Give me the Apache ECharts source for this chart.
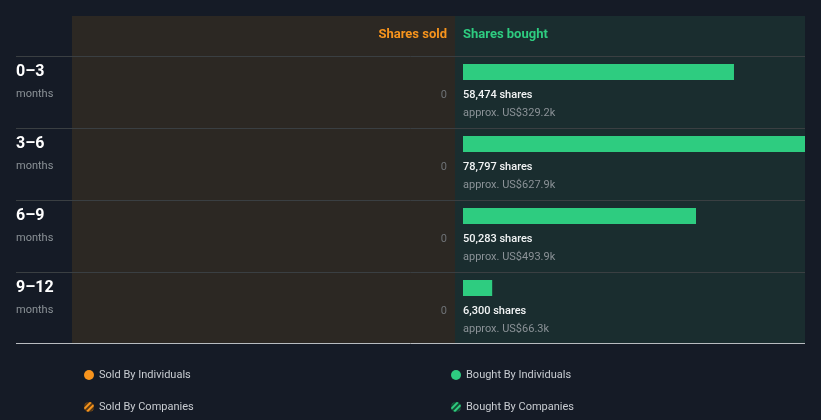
<!DOCTYPE html>
<html><head><meta charset="utf-8">
<script src="https://cdn.jsdelivr.net/npm/echarts@6/dist/echarts.min.js"></script>
<style>html,body{margin:0;padding:0;background:#151b26;}#c{width:821px;height:420px;}</style>
</head><body><div id="c"></div>
<script>
const categories = ['0–3', '3–6', '6–9', '9–12'];
const periodUnit = 'months';
const sharesBought = [58474, 78797, 50283, 6300];
const valueBought = ['US$329.2k', 'US$627.9k', 'US$493.9k', 'US$66.3k'];
const sharesSold = [0, 0, 0, 0];
const boughtAxisMax = 73800;
const legendSold = ['Sold By Individuals', 'Sold By Companies'];
const legendBought = ['Bought By Individuals', 'Bought By Companies'];

const ORANGE = '#f7941d', GREEN = '#2ecc80';
const chart = echarts.init(document.getElementById('c'), null, {renderer: 'canvas'});
const fmt = n => n.toLocaleString('en-US');

const W = 821;
const hidden = {show: false};
const lines = [];
[56, 128, 200, 272].forEach(y => lines.push({type: 'line', shape: {x1: 16, y1: y + 0.5, x2: 805, y2: y + 0.5}, style: {stroke: '#3a3f42', lineWidth: 1}, z: 5}));
lines.push({type: 'line', shape: {x1: 16, y1: 343.5, x2: 805, y2: 343.5}, style: {stroke: '#b8bcc0', lineWidth: 1}, z: 5});

const legendBase = {top: 368, orient: 'vertical', padding: 0, height: 60, itemGap: 18, itemWidth: 10, itemHeight: 10, icon: 'circle',
  textStyle: {color: '#c8ccd1', fontSize: 11, fontFamily: 'Roboto', lineHeight: 14}, selectedMode: false};

chart.setOption({
  backgroundColor: '#151b26',
  animation: false,
  graphic: [
    {type: 'rect', shape: {x: 72, y: 16, width: 383, height: 328}, style: {fill: '#2c2823'}, z: 0},
    {type: 'rect', shape: {x: 455, y: 16, width: 350, height: 328}, style: {fill: '#1a2d2f'}, z: 0},
    {type: 'text', style: {text: 'Shares sold', x: 447, y: 35, align: 'right', verticalAlign: 'middle', fill: ORANGE, font: 'bold 13px Roboto'}, z: 6},
    {type: 'text', style: {text: 'Shares bought', x: 463, y: 35, align: 'left', verticalAlign: 'middle', fill: GREEN, font: 'bold 13px Roboto'}, z: 6},
    ...lines
  ],
  grid: [
    {left: 463, right: 16, top: 36, height: 288},          // bought bars
    {left: 72, right: W - 455, top: 36, height: 288},      // sold bars
    {left: 72, right: 16, top: 47, height: 288}            // row labels
  ],
  xAxis: [
    {gridIndex: 0, type: 'value', min: 0, max: boughtAxisMax, show: false},
    {gridIndex: 1, type: 'value', min: 0, max: 100, inverse: true, show: false},
    {gridIndex: 2, type: 'value', show: false}
  ],
  yAxis: [
    {gridIndex: 0, type: 'category', data: categories, inverse: true, show: false},
    {gridIndex: 1, type: 'category', data: categories, inverse: true, show: false},
    {gridIndex: 2, type: 'category', data: categories, inverse: true,
      axisLine: hidden, axisTick: hidden, splitLine: hidden,
      axisLabel: {show: true, align: 'left', margin: 56,
        formatter: v => '{a|' + v + '}\n{b|' + periodUnit + '}',
        rich: {
          a: {fontFamily: 'Roboto', fontSize: 16, fontWeight: 'bold', color: '#ffffff', lineHeight: 22},
          b: {fontFamily: 'Roboto', fontSize: 11, color: '#8b9297', lineHeight: 22}
        }}}
  ],
  legend: [
    Object.assign({}, legendBase, {left: 84, data: legendSold}),
    Object.assign({}, legendBase, {left: 451, data: legendBought})
  ],
  series: [
    {name: 'Bought By Individuals', type: 'bar', xAxisIndex: 0, yAxisIndex: 0, data: sharesBought, barWidth: 16, barGap: '-100%',
      itemStyle: {color: GREEN}, clip: true,
      label: {show: true, position: [0, 22], align: 'left', verticalAlign: 'top',
        formatter: p => '{a|' + fmt(p.value) + ' shares}\n{b|approx. ' + valueBought[p.dataIndex] + '}',
        rich: {
          a: {fontFamily: 'Roboto', fontSize: 11, fontWeight: 500, color: '#f2f4f5', lineHeight: 18},
          b: {fontFamily: 'Roboto', fontSize: 11, color: '#8b9297', lineHeight: 18}
        }}},
    {name: 'Sold By Individuals', type: 'bar', xAxisIndex: 1, yAxisIndex: 1, data: sharesSold, barWidth: 16, barGap: '-100%',
      itemStyle: {color: ORANGE},
      label: {show: true, position: 'left', distance: 8, offset: [0, 23], color: '#6e7276', fontSize: 11, fontFamily: 'Roboto',
        formatter: p => fmt(p.value)}},
    {name: 'Sold By Companies', type: 'bar', xAxisIndex: 1, yAxisIndex: 1, data: [], barWidth: 16, barGap: '-100%',
      itemStyle: {color: '#5a3a14', decal: {symbol: 'rect', color: ORANGE, dashArrayX: [1, 0], dashArrayY: [2, 2], rotation: -Math.PI / 4, symbolSize: 1}}},
    {name: 'Bought By Companies', type: 'bar', xAxisIndex: 0, yAxisIndex: 0, data: [], barWidth: 16, barGap: '-100%',
      itemStyle: {color: '#144a33', decal: {symbol: 'rect', color: GREEN, dashArrayX: [1, 0], dashArrayY: [2, 2], rotation: -Math.PI / 4, symbolSize: 1}}}
  ]
});
</script></body></html>
